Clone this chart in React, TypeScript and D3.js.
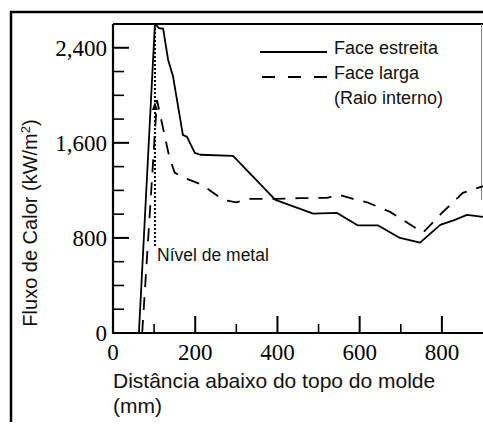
import React from "react";
import * as d3 from "d3";

// Heat flux profiles along the mould (distance in mm, flux in kW/m²)
const narrowFaceDist = [63, 102, 112, 122, 134, 146, 170, 180, 199, 212, 292, 395, 487, 545, 596, 645, 698, 747, 796, 830, 861, 900];
const narrowFaceFlux = [0, 2600, 2565, 2560, 2300, 2160, 1667, 1650, 1515, 1500, 1490, 1120, 1005, 1010, 905, 905, 800, 760, 910, 950, 994, 977];

const wideFaceDist = [71, 107, 137, 150, 170, 215, 268, 300, 335, 395, 455, 520, 552, 584, 618, 674, 754, 800, 851, 900];
const wideFaceFlux = [0, 1960, 1480, 1350, 1310, 1250, 1120, 1100, 1128, 1128, 1135, 1137, 1160, 1128, 1100, 1019, 845, 1010, 1179, 1235];

const metalLevel = 102;

const yMajorTicks = [0, 800, 1600, 2400];
const yTickLabels = ["0", "800", "1,600", "2,400"];
const yMinorTicks = [200, 400, 600, 1000, 1200, 1400, 1800, 2000, 2200];
const xMajorTicks = [0, 200, 400, 600, 800];
const xMinorTicks = [100, 300, 500, 700];

const W = 483;
const H = 425;
const plot = { left: 113, right: 483, top: 24, bottom: 333 };

export default function App() {
  const x = d3.scaleLinear().domain([0, 900]).range([plot.left, plot.right]);
  const y = d3.scaleLinear().domain([0, 2600]).range([plot.bottom, plot.top]);

  const line = d3
    .line<[number, number]>()
    .x((d) => x(d[0]))
    .y((d) => y(d[1]));

  const narrow = narrowFaceDist.map((d, i) => [d, narrowFaceFlux[i]] as [number, number]);
  const wide = wideFaceDist.map((d, i) => [d, wideFaceFlux[i]] as [number, number]);

  const serif = "'Liberation Serif', 'Times New Roman', serif";
  const sans = "'Liberation Sans', Arial, sans-serif";
  const ink = "#111";

  const mx = x(metalLevel);

  return (
    <svg
      width={W}
      height={H}
      style={{ position: "absolute", left: 0, top: 0, background: "#fff" }}
    >
      {/* outer frame */}
      <line x1={10} y1={12} x2={W} y2={12} stroke="#000" strokeWidth={2.5} />
      <line x1={11} y1={11} x2={11} y2={422} stroke="#000" strokeWidth={2.5} />

      {/* plot frame */}
      <line x1={plot.left} y1={plot.top} x2={plot.right} y2={plot.top} stroke="#000" strokeWidth={2} />
      <line x1={481.5} y1={plot.top} x2={481.5} y2={200} stroke="#888" strokeWidth={1} />

      {/* series */}
      <path d={line(narrow) || ""} fill="none" stroke="#000" strokeWidth={1.8} strokeLinejoin="round" />
      <path
        d={line(wide) || ""}
        fill="none"
        stroke="#000"
        strokeWidth={1.8}
        strokeDasharray="13,10"
      />

      {/* metal level marker */}
      <line x1={mx} y1={plot.top} x2={mx} y2={247} stroke="#000" strokeWidth={2} strokeDasharray="2,2" />
      <path d={`M${mx - 3},${110} L${mx},${102} L${mx + 3},${110} Z`} fill="#000" />
      <text x={157} y={261} fontFamily={sans} fontSize={17.5} fill={ink}>
        Nível de metal
      </text>

      {/* axes */}
      <line x1={plot.left} y1={plot.top} x2={plot.left} y2={plot.bottom + 1} stroke="#000" strokeWidth={2.2} />
      <line x1={plot.left - 1} y1={plot.bottom} x2={plot.right} y2={plot.bottom} stroke="#000" strokeWidth={2.2} />

      {yMajorTicks.map((t, i) => (
        <g key={"ym" + t}>
          <line x1={plot.left} x2={plot.left + 16} y1={y(t)} y2={y(t)} stroke="#000" strokeWidth={2} />
          <text
            x={107}
            y={y(t)}
            dy="0.35em"
            textAnchor="end"
            fontFamily={serif}
            fontSize={23}
            fill="#000"
          >
            {yTickLabels[i]}
          </text>
        </g>
      ))}
      {yMinorTicks.map((t) => (
        <line key={"yn" + t} x1={plot.left} x2={plot.left + 11} y1={y(t)} y2={y(t)} stroke="#000" strokeWidth={1.6} />
      ))}
      {xMajorTicks.map((t) => (
        <g key={"xm" + t}>
          <line x1={x(t)} x2={x(t)} y1={plot.bottom} y2={plot.bottom - 17} stroke="#000" strokeWidth={2} />
          <text x={x(t)} y={360} textAnchor="middle" fontFamily={serif} fontSize={23} fill="#000">
            {t}
          </text>
        </g>
      ))}
      {xMinorTicks.map((t) => (
        <line key={"xn" + t} x1={x(t)} x2={x(t)} y1={plot.bottom} y2={plot.bottom - 9} stroke="#000" strokeWidth={1.6} />
      ))}

      {/* axis titles */}
      <text x={113} y={388} fontFamily={sans} fontSize={21} fill={ink}>
        Distância abaixo do topo do molde
      </text>
      <text x={113} y={413} fontFamily={sans} fontSize={21} fill={ink}>
        (mm)
      </text>
      <text
        transform="translate(37,223) rotate(-90)"
        textAnchor="middle"
        fontFamily={sans}
        fontSize={20}
        fill={ink}
      >
        Fluxo de Calor (kW/m<tspan dy="-7" fontSize={13}>2</tspan>
        <tspan dy="7">)</tspan>
      </text>

      {/* legend */}
      <line x1={260} x2={327} y1={52} y2={52} stroke="#000" strokeWidth={1.8} />
      <text x={334} y={54} fontFamily={sans} fontSize={18} fill={ink}>
        Face estreita
      </text>
      <line x1={262} x2={327} y1={77} y2={77} stroke="#000" strokeWidth={1.8} strokeDasharray="13,13" />
      <text x={334} y={79} fontFamily={sans} fontSize={18} fill={ink}>
        Face larga
      </text>
      <text x={334} y={104} fontFamily={sans} fontSize={18} fill={ink}>
        (Raio interno)
      </text>
    </svg>
  );
}
